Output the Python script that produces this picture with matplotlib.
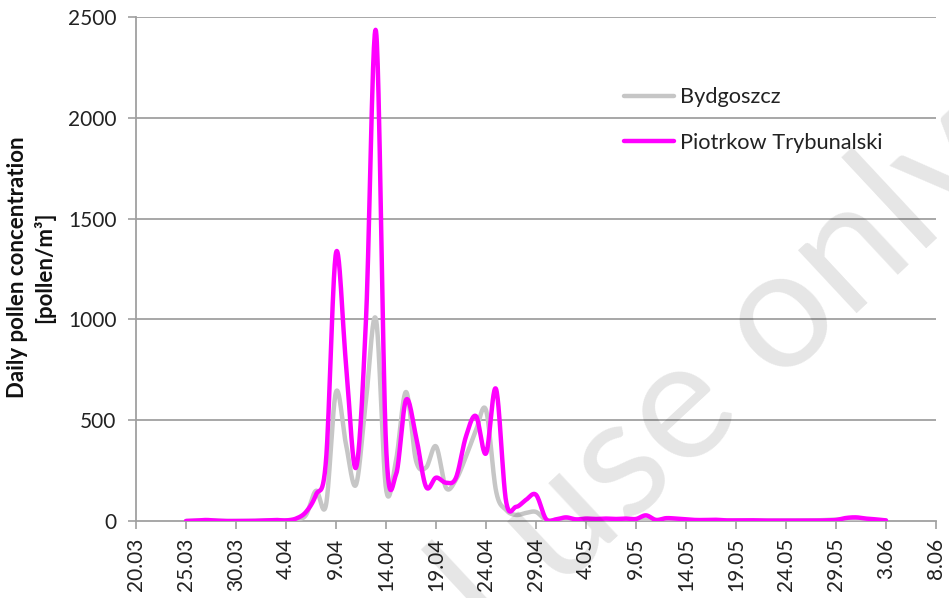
import numpy as np
import matplotlib
matplotlib.use("Agg")
import matplotlib.pyplot as plt

# ---------------- data ----------------
tick_days = list(range(0, 81, 5))
tick_labels = ["20.03", "25.03", "30.03", "4.04", "9.04", "14.04", "19.04", "24.04",
               "29.04", "4.05", "9.05", "14.05", "19.05", "24.05", "29.05", "3.06", "8.06"]

# day index (days since 20.03) for 25.03 .. 3.06
days = list(range(5, 76))

bydgoszcz = [0, 1, 3, 2, 0, 0, 0, 1, 2, 3, 3,          # d5-15
             8, 30, 150, 80, 640, 380, 180, 600, 1000,  # d16-24
             160, 300, 640, 300, 265, 370, 165, 205,    # d25-32
             320, 450, 550, 150, 55, 30, 40, 45, 5,     # d33-41
             5, 8, 5, 5, 6, 5, 5, 6, 8, 6,              # d42-51
             5, 5, 4, 4, 3, 3, 3, 2, 2, 2,              # d52-61
             2, 2, 2, 2, 2, 2, 3, 5, 8, 10,             # d62-71
             8, 6, 4, 2]                                # d72-75

piotrkow = [0, 2, 5, 2, 0, 0, 0, 1, 3, 5, 3,           # d5-15
            12, 45, 130, 300, 1330, 780, 265, 1000, 2430,  # d16-24
            380, 230, 600, 420, 170, 215, 190, 215,     # d25-32
            420, 520, 335, 655, 100, 70, 105, 130, 10,  # d33-41
            8, 18, 8, 12, 10, 12, 10, 12, 10, 28,       # d42-51
            5, 14, 12, 8, 5, 5, 6, 3, 3, 4,             # d52-61
            3, 2, 2, 2, 2, 2, 2, 3, 5, 15,              # d62-71
            18, 12, 8, 3]                               # d72-75

series_names = ["Bydgoszcz", "Piotrkow Trybunalski"]
series_colors = ["#C6C6C6", "#FF00FF"]


def smooth(x, y, n=24):
    """Catmull-Rom (Excel-like smoothed line) through the data points."""
    x = np.asarray(x, float)
    y = np.asarray(y, float)
    px = np.concatenate([[x[0]], x, [x[-1]]])
    py = np.concatenate([[y[0]], y, [y[-1]]])
    xs, ys = [], []
    t = np.linspace(0, 1, n, endpoint=False)
    for i in range(1, len(px) - 2):
        p0x, p1x, p2x, p3x = px[i - 1], px[i], px[i + 1], px[i + 2]
        p0y, p1y, p2y, p3y = py[i - 1], py[i], py[i + 1], py[i + 2]
        c1x = p1x + (p2x - p0x) / 6.0
        c1y = p1y + (p2y - p0y) / 6.0
        c2x = p2x - (p3x - p1x) / 6.0
        c2y = p2y - (p3y - p1y) / 6.0
        b0 = (1 - t) ** 3
        b1 = 3 * (1 - t) ** 2 * t
        b2 = 3 * (1 - t) * t ** 2
        b3 = t ** 3
        xs.append(b0 * p1x + b1 * c1x + b2 * c2x + b3 * p2x)
        ys.append(b0 * p1y + b1 * c1y + b2 * c2y + b3 * p2y)
    xs.append([x[-1]])
    ys.append([y[-1]])
    return np.concatenate(xs), np.concatenate(ys)


plt.rcParams['font.family'] = ['Lato', 'DejaVu Sans']

W, H = 949, 598
fig = plt.figure(figsize=(W / 100, H / 100), dpi=100)
ax = fig.add_axes([136 / W, 1 - 521 / H, 800 / W, 504 / H])

grid_c = "#A0A0A0"
for yv in range(500, 2501, 500):
    ax.axhline(yv, color=grid_c, lw=1.3, zorder=1)

for vals, name, col in zip([bydgoszcz, piotrkow], series_names, series_colors):
    sx, sy = smooth(days, vals)
    ax.plot(sx, sy, color=col, lw=3.2, label=name, solid_capstyle='round',
            solid_joinstyle='round', zorder=3)

ax.set_xlim(0, 80)
ax.set_ylim(0, 2500)
ax.set_xticks(tick_days)
ax.set_xticklabels(tick_labels, rotation=90, fontsize=15, color="#222222")
ax.set_yticks(range(0, 2501, 500))
ax.set_yticklabels([str(v) for v in range(0, 2501, 500)], fontsize=15, color="#222222")
ax.tick_params(axis='both', direction='out', length=6, width=1.2, color=grid_c)
ax.tick_params(axis='y', pad=8)
ax.tick_params(axis='x', pad=6)
for s in ['top', 'right']:
    ax.spines[s].set_visible(False)
for s in ['left', 'bottom']:
    ax.spines[s].set_color(grid_c)
    ax.spines[s].set_linewidth(1.3)

fig.text(31 / W, 1 - 267 / H, "Daily pollen concentration\n[pollen/m\u00b3]",
         rotation=90, ha='center', va='center', fontsize=16, fontweight='bold',
         linespacing=1.3, color="#111111")

leg = ax.legend(loc='center left', bbox_to_anchor=(624 / W, 1 - 120 / H),
                bbox_transform=fig.transFigure, frameon=False, fontsize=15.7,
                handlelength=2.3, handletextpad=0.25, labelspacing=1.15,
                borderpad=0, borderaxespad=0)
for t in leg.get_texts():
    t.set_color("#222222")

# watermark (diagonal, semi-transparent)
wm_kw = dict(rotation=43, fontsize=122, color="#000000", alpha=0.1,
             rotation_mode='anchor', va='baseline', zorder=10)
fig.text(558 / W, 1 - 592 / H, "use only", ha='left', **wm_kw)
fig.text(558 / W, 1 - 592 / H, "For personal ", ha='right', **wm_kw)

fig.savefig("out.png", dpi=100)
